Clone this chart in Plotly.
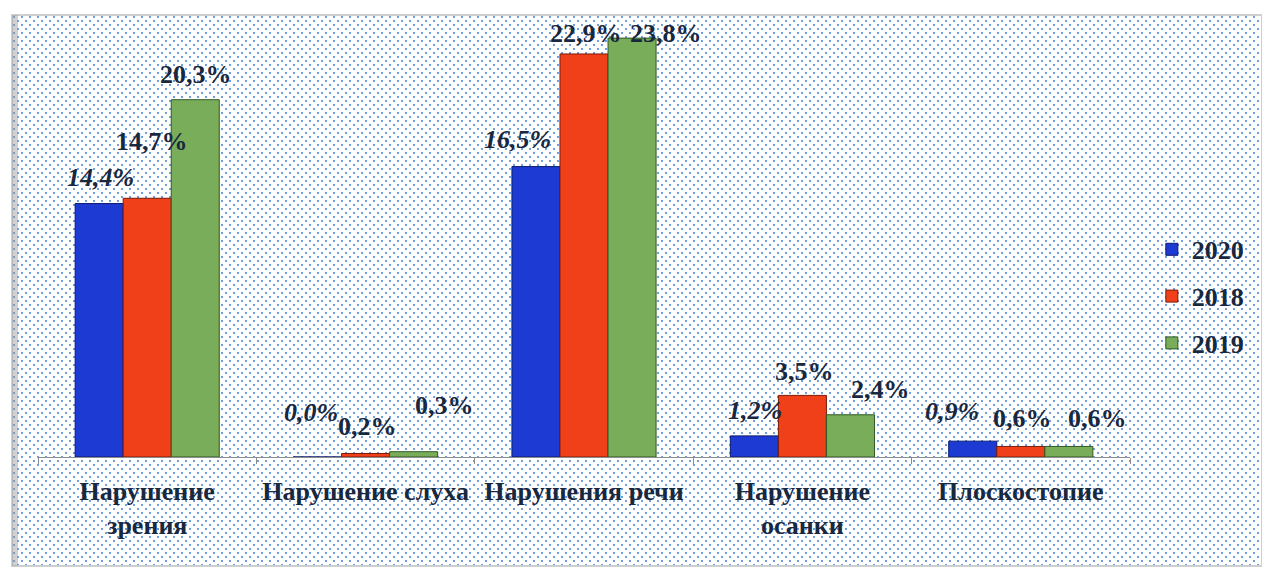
import base64
import plotly.graph_objects as go

categories = [
    "Нарушение<br>зрения",
    "Нарушение слуха",
    "Нарушения речи",
    "Нарушение<br>осанки",
    "Плоскостопие",
]
years = ["2020", "2018", "2019"]
values_2020 = [14.4, 0.0, 16.5, 1.2, 0.9]
values_2018 = [14.7, 0.2, 22.9, 3.5, 0.6]
values_2019 = [20.3, 0.3, 23.8, 2.4, 0.6]
series = [values_2020, values_2018, values_2019]

BAR_COLORS = ["#1d3bd2", "#f0401a", "#79ad5a"]
EDGE_COLORS = ["#0a1a70", "#7a1a08", "#2f5a22"]
TEXT_COLOR = "#17283f"
FONT = "Liberation Serif, Times New Roman, serif"

# label nudges (px) relative to the top of each bar, as placed in the original
LABEL_DX = [[1, -7, -18, 1, -21], [5, 2, 2, 2, 2], [1, 31, 34, 30, 29]]
LABEL_DY = [[26, 45, 27, 25, 30], [57, 27, 20, 24, 28], [25, 46, 5, 25, 28]]

PLOT_W, PLOT_H = 1092, 440
BARGAP = 0.34
SLOT = PLOT_W / len(categories) * (1 - BARGAP) / len(years)

# dotted background, drawn as an svg tile behind the whole chart
W, H = 1250, 551
svg = (
    f'<svg xmlns="http://www.w3.org/2000/svg" width="{W}" height="{H}">'
    '<defs><pattern id="p" width="8" height="8" patternUnits="userSpaceOnUse">'
    '<rect x="1" y="1" width="2" height="2" fill="#6f9fdc"/>'
    '<rect x="5" y="5" width="2" height="2" fill="#6f9fdc"/>'
    '</pattern></defs>'
    f'<rect width="{W}" height="{H}" fill="white"/>'
    f'<rect width="{W}" height="{H}" fill="url(#p)"/>'
    '</svg>'
)
bg_uri = "data:image/svg+xml;base64," + base64.b64encode(svg.encode()).decode()

fig = go.Figure()
annotations = []
for i, (year, vals) in enumerate(zip(years, series)):
    fig.add_trace(
        go.Bar(
            x=categories,
            y=vals,
            name=year,
            marker=dict(color=BAR_COLORS[i], line=dict(color=EDGE_COLORS[i], width=1)),
            legendgroup=year,
        )
    )
    for j, v in enumerate(vals):
        annotations.append(
            dict(
                x=categories[j],
                y=v,
                xref="x",
                yref="y",
                text=f"{v:.1f}%".replace(".", ","),
                showarrow=False,
                xanchor="center",
                yanchor="middle",
                xshift=(i - 1) * SLOT + LABEL_DX[i][j],
                yshift=LABEL_DY[i][j],
                font=dict(
                    family=FONT,
                    size=26,
                    color=TEXT_COLOR,
                    weight="bold",
                    style="italic" if year == "2020" else "normal",
                ),
            )
        )

x_left = (12 - 38) / PLOT_W
y_top = (457 - 15) / PLOT_H

fig.update_layout(
    width=1262,
    height=570,
    margin=dict(l=38, r=132, t=17, b=113),
    paper_bgcolor="white",
    plot_bgcolor="rgba(0,0,0,0)",
    barmode="group",
    bargap=BARGAP,
    bargroupgap=0,
    font=dict(family=FONT, size=26, color=TEXT_COLOR),
    xaxis=dict(
        automargin=False,
        showline=True,
        linecolor="#8c8c8c",
        linewidth=1,
        ticks="outside",
        tickson="boundaries",
        ticklen=6,
        tickcolor="#8c8c8c",
        tickfont=dict(family=FONT, size=26, color=TEXT_COLOR, weight="bold"),
        ticklabelstandoff=11,
    ),
    yaxis=dict(range=[0, 25], visible=False, automargin=False),
    legend=dict(
        x=1.02,
        y=0.365,
        xanchor="left",
        yanchor="middle",
        tracegroupgap=10,
        font=dict(family=FONT, size=26, color=TEXT_COLOR, weight="bold"),
        bgcolor="rgba(0,0,0,0)",
    ),
    annotations=annotations,
    images=[
        dict(
            source=bg_uri,
            xref="paper",
            yref="paper",
            x=x_left,
            y=y_top,
            sizex=W / PLOT_W,
            sizey=H / PLOT_H,
            sizing="stretch",
            xanchor="left",
            yanchor="top",
            layer="below",
        )
    ],
    shapes=[
        dict(
            type="rect",
            xref="paper",
            yref="paper",
            x0=x_left,
            x1=(12 + W - 38) / PLOT_W,
            y0=(457 - 15 - H) / PLOT_H,
            y1=y_top,
            line=dict(color="#cfcfcf", width=2),
            layer="below",
        ),
        # soft shadow along the left edge of the frame
        dict(
            type="line",
            xref="paper",
            yref="paper",
            x0=x_left + 3 / PLOT_W,
            x1=x_left + 3 / PLOT_W,
            y0=(457 - 15 - H) / PLOT_H,
            y1=y_top,
            line=dict(color="rgba(150,150,150,0.45)", width=6),
            layer="below",
        ),
    ],
)

fig.write_html(
    "out.html",
    config={"displayModeBar": False},
    post_script="document.body.style.margin='0';",
)
